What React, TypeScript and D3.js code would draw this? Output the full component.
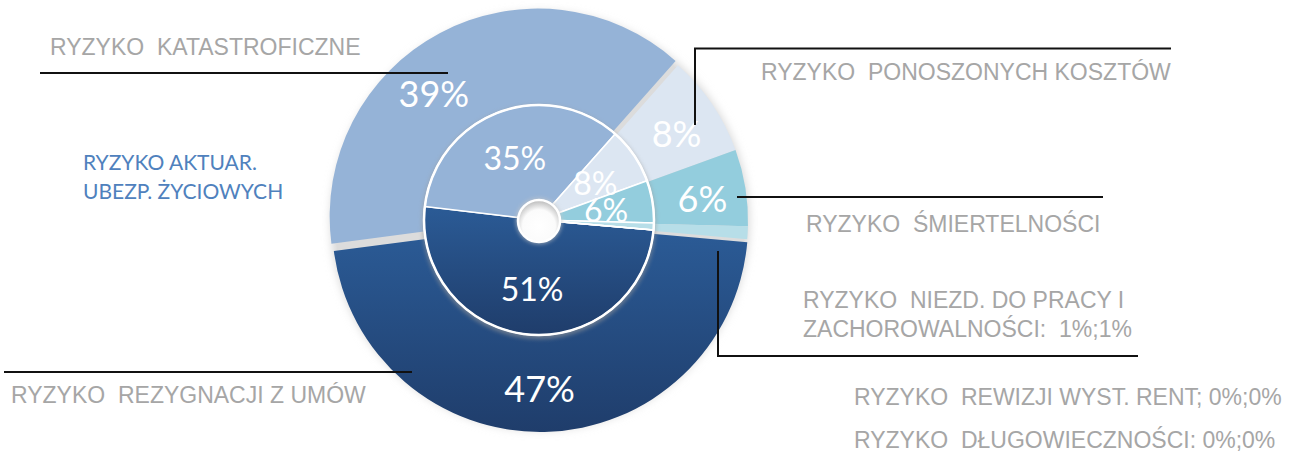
import React from 'react';
import * as d3 from 'd3';

// ---- data ----
const categories = [
  'RYZYKO REZYGNACJI Z UMÓW',
  'RYZYKO KATASTROFICZNE',
  'RYZYKO PONOSZONYCH KOSZTÓW',
  'RYZYKO ŚMIERTELNOŚCI',
  'RYZYKO NIEZD. DO PRACY I ZACHOROWALNOŚCI',
  'RYZYKO REWIZJI WYST. RENT',
  'RYZYKO DŁUGOWIECZNOŚCI',
];
const outerShares = [47, 39, 8, 6, 1, 0, 0];
const innerShares = [51, 35, 8, 6, 1, 0, 0];
const externalLabelLines = [
  ['RYZYKO  REZYGNACJI Z UMÓW'],
  ['RYZYKO  KATASTROFICZNE'],
  ['RYZYKO  PONOSZONYCH KOSZTÓW'],
  ['RYZYKO  ŚMIERTELNOŚCI'],
  ['RYZYKO  NIEZD. DO PRACY I', 'ZACHOROWALNOŚCI:  1%;1%'],
  ['RYZYKO  REWIZJI WYST. RENT; 0%;0%'],
  ['RYZYKO  DŁUGOWIECZNOŚCI: 0%;0%'],
];
const groupTitleLines = ['RYZYKO AKTUAR.', 'UBEZP. ŻYCIOWYCH'];

// ---- styles / layout ----
const sliceColors = ['url(#gradRez)', '#95b3d7', '#dce6f2', '#93cddd', '#b7dee8', '#c6e6ee', '#c6e6ee'];
const outerExplode = [3, 5, 0, 0, 0, 0, 0];
const outerLabelNudge: [number, number][] = [[-4, 4], [-28, 20], [3, 4], [3, 4], [0, 0], [0, 0], [0, 0]];
// external label anchor positions (x, first baseline)
const externalLabelPos: [number, number][] = [[11, 403], [50, 55], [761, 80], [806, 232], [803, 308], [854, 405], [854, 448]];
// leader lines as polyline points
const leaderLines: [number, number][][] = [
  [[4, 372], [412, 372]],
  [[40, 73], [448, 73]],
  [[695, 125], [695, 48.5], [1171, 48.5]],
  [[737, 197], [1103, 197]],
  [[718, 251], [718, 356], [1138, 356]],
];

const W = 1314, H = 454;
const cx = 540, cy = 221;
const icx = 539, icy = 220;
const R = 208, innerR = 115, holeR = 21;
const startAngle = (95 * Math.PI) / 180;

export default function App() {
  const pie = d3
    .pie<number>()
    .sort(null)
    .value((d) => d)
    .startAngle(startAngle)
    .endAngle(startAngle + 2 * Math.PI);
  const outerArcs = pie(outerShares);
  const innerArcs = pie(innerShares);
  const outerArc = d3.arc<d3.PieArcDatum<number>>().innerRadius(90).outerRadius(R);
  const innerArc = d3.arc<d3.PieArcDatum<number>>().innerRadius(0).outerRadius(innerR);
  const outerLabelArc = d3.arc<d3.PieArcDatum<number>>().innerRadius(innerR).outerRadius(R);
  const innerLabelArc = d3.arc<d3.PieArcDatum<number>>().innerRadius(holeR).outerRadius(innerR);
  const line = d3.line();

  const rez = innerArcs[0];
  const nonRezClip = d3
    .arc()
    .innerRadius(0)
    .outerRadius(innerR)
    .startAngle(rez.endAngle)
    .endAngle(rez.startAngle + 2 * Math.PI)({} as any) as string;

  const pctFont = "Lato, 'Open Sans', sans-serif";
  const labFont = "'Liberation Sans', Arial, sans-serif";

  return (
    <svg width={W} height={H} style={{ position: 'absolute', left: 0, top: 0, background: '#fff' }}>
      <defs>
        <linearGradient id="gradRez" x1="0" y1="0" x2="0" y2="1">
          <stop offset="0" stopColor="#2b5b96" />
          <stop offset="1" stopColor="#1f3d6b" />
        </linearGradient>
        <radialGradient id="gradHole" cx="0.5" cy="0.62" r="0.6">
          <stop offset="0" stopColor="#ffffff" />
          <stop offset="0.65" stopColor="#fbfbfb" />
          <stop offset="1" stopColor="#bdbdbd" />
        </radialGradient>
        <filter id="glow" x="-20%" y="-20%" width="140%" height="140%">
          <feGaussianBlur stdDeviation="5" />
        </filter>
        <filter id="innerShadow" x="-20%" y="-20%" width="140%" height="140%">
          <feGaussianBlur stdDeviation="2" />
        </filter>
        <clipPath id="clipNonRez">
          <path d={nonRezClip} transform={`translate(${icx},${icy})`} />
        </clipPath>
      </defs>

      {/* outer ring glow */}
      <circle cx={cx} cy={cy} r={R + 1} fill="#d6d6d6" filter="url(#glow)" />
      <circle cx={cx} cy={cy} r={R - 3} fill="#dcdcdc" />

      {/* outer ring */}
      <g transform={`translate(${cx},${cy})`}>
        {outerArcs.map((a, i) => {
          const mid = (a.startAngle + a.endAngle) / 2;
          const e = outerExplode[i];
          return (
            <path
              key={categories[i]}
              d={outerArc(a) as string}
              fill={sliceColors[i]}
              transform={`translate(${Math.sin(mid) * e},${-Math.cos(mid) * e})`}
            />
          );
        })}
      </g>

      {/* inner ring shadow */}
      <circle cx={icx} cy={icy + 2} r={innerR + 2} fill="#9a9a9a" opacity={0.6} filter="url(#innerShadow)" />

      {/* inner ring */}
      <g transform={`translate(${icx},${icy})`}>
        {innerArcs.map((a, i) => (
          <path key={categories[i]} d={innerArc(a) as string} fill={sliceColors[i]} stroke="#fff" strokeWidth={1.5} />
        ))}
      </g>
      <circle cx={icx} cy={icy} r={innerR} fill="none" stroke="#fff" strokeWidth={2.5} />

      {/* hole */}
      <circle cx={icx} cy={icy + 1} r={holeR + 2} fill="#c8c8c8" filter="url(#innerShadow)" opacity={0.7} />
      <circle cx={icx} cy={icy + 1} r={holeR} fill="url(#gradHole)" stroke="#fff" strokeWidth={2.5} />

      {/* outer percentage labels */}
      <g transform={`translate(${cx},${cy})`}>
        {outerArcs.map((a, i) => {
          if (a.data < 5) return null;
          const mid = (a.startAngle + a.endAngle) / 2;
          const e = outerExplode[i];
          const [x, y] = outerLabelArc.centroid(a);
          return (
            <text
              key={categories[i]}
              x={x + Math.sin(mid) * e + outerLabelNudge[i][0]}
              y={y - Math.cos(mid) * e + outerLabelNudge[i][1]}
              dy="0.35em"
              textAnchor="middle"
              fill="#fff"
              fontFamily={pctFont}
              fontSize={36}
            >
              {`${a.data}%`}
            </text>
          );
        })}
      </g>

      {/* inner percentage labels */}
      <g clipPath="url(#clipNonRez)">
        <g transform={`translate(${icx},${icy})`}>
          {innerArcs.map((a, i) => {
            if (a.data < 5 || i === 0) return null;
            const [x, y] = innerLabelArc.centroid(a);
            return (
              <text
                key={categories[i]}
                x={x}
                y={y + 2}
                dy="0.35em"
                textAnchor="middle"
                fill="#fff"
                fontFamily={pctFont}
                fontSize={32}
              >
                {`${a.data}%`}
              </text>
            );
          })}
        </g>
      </g>
      {/* rez inner label (not clipped) */}
      <g transform={`translate(${icx},${icy})`}>
        {(() => {
          const [x, y] = innerLabelArc.centroid(rez);
          return (
            <text x={x} y={y + 2} dy="0.35em" textAnchor="middle" fill="#fff" fontFamily={pctFont} fontSize={32}>
              {`${rez.data}%`}
            </text>
          );
        })()}
      </g>

      {/* leader lines */}
      {leaderLines.map((pts, i) => (
        <path key={i} d={line(pts) as string} fill="none" stroke="#111" strokeWidth={2} />
      ))}

      {/* external labels */}
      {externalLabelLines.map((lines, i) => (
        <text
          key={categories[i]}
          x={externalLabelPos[i][0]}
          y={externalLabelPos[i][1]}
          fill="#a6a6a6"
          fontFamily={labFont}
          fontSize={23}
          style={{ whiteSpace: 'pre' }}
        >
          {lines.map((l, j) => (
            <tspan key={j} x={externalLabelPos[i][0]} dy={j === 0 ? 0 : 29}>
              {l}
            </tspan>
          ))}
        </text>
      ))}

      {/* group title */}
      <text x={83} y={170} fill="#4f81bd" fontFamily={pctFont} fontSize={21}>
        {groupTitleLines.map((l, j) => (
          <tspan key={j} x={83} dy={j === 0 ? 0 : 28.5}>
            {l}
          </tspan>
        ))}
      </text>
    </svg>
  );
}
